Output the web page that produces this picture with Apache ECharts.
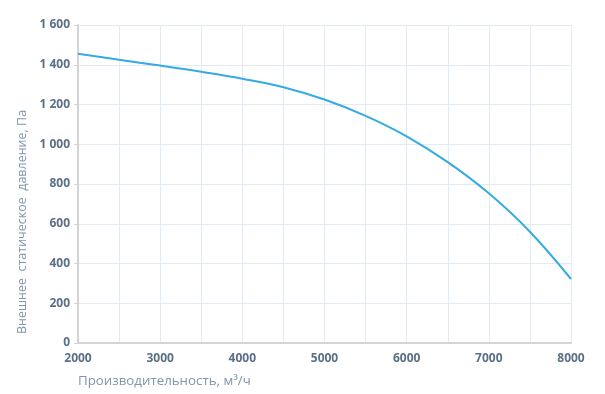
<!DOCTYPE html>
<html><head><meta charset="utf-8">
<script src="https://cdn.jsdelivr.net/npm/echarts@6/dist/echarts.min.js"></script>
<style>html,body{margin:0;padding:0;background:#fff}#c{width:605px;height:394px}</style>
</head><body><div id="c"></div>
<script>
const flow = [2000, 2500, 3000, 3500, 4000, 4500, 5000, 5500, 6000, 6500, 7000, 7500, 8000];
const pressure = [1455, 1425, 1396, 1365, 1330, 1287, 1225, 1143, 1040, 910, 753, 560, 322];
const xName = 'Производительность, м³/ч';
const yName = 'Внешнее  статическое  давление, Па';

const chart = echarts.init(document.getElementById('c'));
const fmt = v => String(v).replace(/\B(?=(\d{3})+(?!\d))/g, '\u00a0');
chart.setOption({
  animation: false,
  grid: {left: 78, right: 34, top: 25, bottom: 51},
  xAxis: {
    type: 'value', min: 2000, max: 8000, interval: 500,
    name: xName, nameLocation: 'start', nameGap: 0,
    nameTextStyle: {align: 'left', verticalAlign: 'top', padding: [32, 0, 0, 0], color: '#7f96ae', fontSize: 13.3, fontFamily: 'Open Sans'},
    axisLine: {show: true, lineStyle: {color: '#d4d4d4', width: 2}},
    axisTick: {show: false},
    axisLabel: {formatter: v => v % 1000 === 0 ? String(v) : '', color: '#5b6f86', fontSize: 12, fontWeight: 'bold', fontFamily: 'Open Sans', margin: 10},
    splitLine: {show: true, lineStyle: {color: '#e1eaf5', width: 1}}
  },
  yAxis: {
    type: 'value', min: 0, max: 1600, interval: 200,
    name: yName, nameLocation: 'middle', nameGap: 48,
    nameTextStyle: {color: '#7f96ae', fontSize: 12.5, fontFamily: 'Open Sans', padding: [0, 76, 0, 0]},
    axisLine: {show: true, lineStyle: {color: '#d4d4d4', width: 2}},
    axisTick: {show: true, length: 4, lineStyle: {color: '#d4d4d4'}},
    axisLabel: {formatter: fmt, color: '#5b6f86', fontSize: 12, fontWeight: 'bold', fontFamily: 'Open Sans', margin: 8},
    splitLine: {show: true, lineStyle: {color: '#e1eaf5', width: 1}}
  },
  series: [{
    type: 'line', smooth: 0.4, showSymbol: false,
    data: flow.map((x, i) => [x, pressure[i]]),
    lineStyle: {color: '#35aae3', width: 2}
  }]
});
</script></body></html>
